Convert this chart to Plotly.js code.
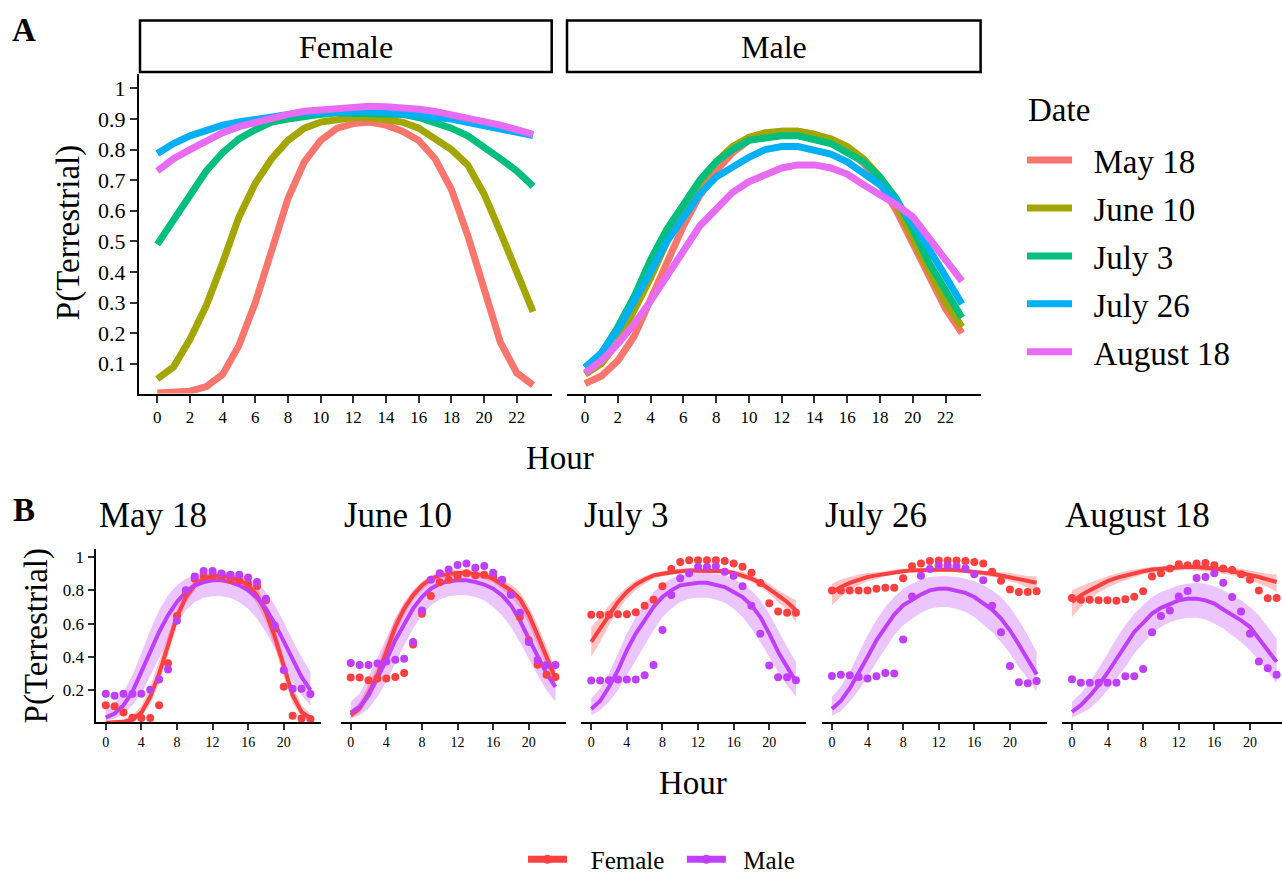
<!DOCTYPE html>
<html>
<head>
<meta charset="utf-8">
<script src="https://cdn.plot.ly/plotly-3.0.1.min.js"></script>
<style>html,body{margin:0;padding:0;background:#fff;}#chart{width:1282px;height:883px;}</style>
</head>
<body>
<div id="chart"></div>
<script>
// ---------------- DATA ----------------
const hours = [0,1,2,3,4,5,6,7,8,9,10,11,12,13,14,15,16,17,18,19,20,21,22,23];
const dates = ['May 18','June 10','July 3','July 26','August 18'];
const sexes = ['Female','Male'];
const tickHoursA = [0,2,4,6,8,10,12,14,16,18,20,22];
const tickHoursB = [0,4,8,12,16,20];
const tickProbA = [0.1,0.2,0.3,0.4,0.5,0.6,0.7,0.8,0.9,1];
const tickProbA_text = ['0.1','0.2','0.3','0.4','0.5','0.6','0.7','0.8','0.9','1'];
const tickProbB = [0.2,0.4,0.6,0.8,1];
const tickProbB_text = ['0.2','0.4','0.6','0.8','1'];

// fitted P(Terrestrial) - Female
const fitF_May18 = [0.004,0.006,0.010,0.025,0.065,0.16,0.30,0.47,0.64,0.76,0.83,0.87,0.885,0.89,0.88,0.86,0.83,0.77,0.67,0.52,0.34,0.17,0.07,0.03];
const fitF_Jun10 = [0.05,0.09,0.18,0.29,0.43,0.58,0.69,0.77,0.83,0.87,0.89,0.90,0.905,0.905,0.90,0.89,0.87,0.835,0.80,0.75,0.655,0.53,0.40,0.27];
const fitF_Jul3  = [0.49,0.57,0.655,0.73,0.79,0.835,0.865,0.89,0.90,0.91,0.915,0.92,0.92,0.92,0.92,0.915,0.905,0.89,0.87,0.845,0.81,0.77,0.73,0.68];
const fitF_Jul26 = [0.787,0.82,0.845,0.865,0.88,0.89,0.90,0.91,0.915,0.92,0.922,0.925,0.925,0.925,0.922,0.918,0.912,0.905,0.90,0.89,0.88,0.87,0.855,0.846];
const fitF_Aug18 = [0.73,0.77,0.80,0.83,0.855,0.875,0.89,0.905,0.915,0.925,0.93,0.935,0.94,0.942,0.94,0.937,0.932,0.925,0.915,0.905,0.895,0.88,0.865,0.85];
// fitted P(Terrestrial) - Male
const fitM_May18 = [0.035,0.06,0.11,0.19,0.31,0.43,0.55,0.65,0.73,0.79,0.83,0.85,0.86,0.86,0.85,0.83,0.80,0.755,0.69,0.60,0.49,0.38,0.28,0.20];
const fitM_Jun10 = [0.065,0.10,0.17,0.27,0.38,0.50,0.60,0.69,0.76,0.81,0.84,0.855,0.86,0.86,0.85,0.835,0.81,0.77,0.71,0.62,0.51,0.40,0.30,0.22];
const fitM_Jul3  = [0.087,0.135,0.22,0.32,0.44,0.54,0.62,0.70,0.76,0.80,0.83,0.84,0.845,0.845,0.835,0.82,0.79,0.76,0.71,0.64,0.54,0.43,0.34,0.25];
const fitM_Jul26 = [0.087,0.135,0.21,0.30,0.40,0.50,0.58,0.655,0.71,0.745,0.775,0.80,0.81,0.81,0.80,0.785,0.76,0.725,0.685,0.63,0.56,0.475,0.39,0.295];
const fitM_Aug18 = [0.07,0.11,0.165,0.23,0.305,0.39,0.47,0.55,0.605,0.66,0.695,0.72,0.74,0.75,0.75,0.74,0.72,0.685,0.655,0.62,0.58,0.51,0.44,0.37];

// confidence band - Female
const loF_May18 = [0.001,0.002,0.004,0.012,0.040,0.115,0.24,0.41,0.59,0.72,0.80,0.845,0.86,0.865,0.855,0.83,0.79,0.72,0.61,0.46,0.28,0.12,0.04,0.013];
const hiF_May18 = [0.012,0.016,0.024,0.050,0.105,0.22,0.37,0.53,0.69,0.80,0.86,0.89,0.905,0.91,0.90,0.885,0.86,0.815,0.72,0.58,0.40,0.23,0.11,0.06];
const loF_Jun10 = [0.03,0.065,0.14,0.24,0.38,0.53,0.65,0.74,0.80,0.845,0.87,0.88,0.885,0.885,0.88,0.865,0.845,0.805,0.76,0.70,0.60,0.47,0.34,0.21];
const hiF_Jun10 = [0.075,0.13,0.23,0.35,0.49,0.63,0.73,0.80,0.855,0.89,0.91,0.92,0.925,0.925,0.92,0.91,0.895,0.865,0.835,0.79,0.705,0.59,0.46,0.33];
const loF_Jul3  = [0.40,0.49,0.59,0.68,0.75,0.80,0.84,0.87,0.885,0.895,0.90,0.905,0.905,0.905,0.905,0.90,0.89,0.87,0.85,0.82,0.78,0.73,0.68,0.61];
const hiF_Jul3  = [0.58,0.64,0.71,0.77,0.82,0.86,0.885,0.905,0.915,0.925,0.93,0.935,0.935,0.935,0.935,0.93,0.92,0.91,0.89,0.87,0.84,0.80,0.77,0.74];
const loF_Jul26 = [0.71,0.76,0.80,0.83,0.855,0.87,0.885,0.895,0.905,0.91,0.91,0.912,0.912,0.912,0.91,0.905,0.90,0.89,0.88,0.87,0.855,0.84,0.815,0.79];
const hiF_Jul26 = [0.84,0.865,0.88,0.895,0.905,0.91,0.915,0.925,0.93,0.935,0.935,0.937,0.937,0.937,0.935,0.93,0.925,0.92,0.915,0.91,0.905,0.895,0.885,0.885];
const loF_Aug18 = [0.64,0.70,0.745,0.785,0.815,0.84,0.86,0.88,0.895,0.905,0.91,0.915,0.92,0.922,0.92,0.915,0.91,0.90,0.89,0.875,0.86,0.84,0.82,0.79];
const hiF_Aug18 = [0.80,0.825,0.845,0.865,0.885,0.90,0.915,0.925,0.935,0.94,0.945,0.95,0.955,0.957,0.955,0.95,0.945,0.94,0.935,0.93,0.92,0.91,0.90,0.895];
// confidence band - Male
const loM_May18 = [0.015,0.03,0.06,0.11,0.18,0.28,0.39,0.50,0.60,0.68,0.73,0.755,0.765,0.765,0.755,0.73,0.69,0.63,0.55,0.45,0.35,0.25,0.17,0.11];
const hiM_May18 = [0.09,0.12,0.19,0.29,0.42,0.56,0.68,0.77,0.83,0.87,0.89,0.90,0.91,0.915,0.91,0.90,0.88,0.845,0.79,0.71,0.61,0.50,0.40,0.31];
const loM_Jun10 = [0.03,0.05,0.09,0.16,0.25,0.36,0.47,0.57,0.65,0.71,0.745,0.765,0.77,0.77,0.76,0.74,0.70,0.65,0.58,0.49,0.39,0.29,0.20,0.13];
const hiM_Jun10 = [0.13,0.18,0.28,0.40,0.52,0.63,0.72,0.79,0.84,0.88,0.90,0.91,0.915,0.915,0.91,0.90,0.885,0.86,0.81,0.74,0.64,0.52,0.42,0.33];
const loM_Jul3  = [0.05,0.08,0.13,0.20,0.29,0.38,0.47,0.56,0.64,0.69,0.73,0.75,0.755,0.755,0.745,0.725,0.69,0.64,0.57,0.49,0.40,0.31,0.23,0.16];
const hiM_Jul3  = [0.15,0.21,0.30,0.42,0.54,0.64,0.72,0.79,0.84,0.87,0.89,0.90,0.905,0.905,0.90,0.89,0.87,0.84,0.80,0.74,0.66,0.56,0.46,0.37];
const loM_Jul26 = [0.045,0.075,0.13,0.20,0.28,0.37,0.45,0.53,0.59,0.63,0.665,0.69,0.70,0.70,0.69,0.67,0.64,0.595,0.55,0.49,0.42,0.34,0.27,0.19];
const hiM_Jul26 = [0.16,0.22,0.31,0.42,0.53,0.62,0.70,0.76,0.81,0.84,0.865,0.88,0.885,0.885,0.88,0.87,0.855,0.83,0.80,0.76,0.70,0.62,0.53,0.43];
const loM_Aug18 = [0.035,0.06,0.09,0.14,0.20,0.27,0.34,0.42,0.48,0.54,0.58,0.61,0.625,0.635,0.635,0.625,0.60,0.57,0.53,0.49,0.44,0.38,0.31,0.24];
const hiM_Aug18 = [0.13,0.18,0.25,0.33,0.42,0.51,0.59,0.66,0.71,0.76,0.79,0.81,0.83,0.84,0.845,0.84,0.825,0.80,0.77,0.74,0.70,0.65,0.58,0.51];

// observed proportion terrestrial - Female
const obsF_May18 = [0.11,0.104,0.066,0.034,0.033,0.033,0.109,0.362,0.646,0.79,0.87,0.887,0.887,0.883,0.864,0.86,0.84,0.825,0.74,0.57,0.22,0.046,0.03,0.027];
const obsF_Jun10 = [0.276,0.276,0.26,0.27,0.27,0.28,0.303,0.475,0.66,0.766,0.848,0.864,0.883,0.903,0.89,0.893,0.883,0.86,0.78,0.64,0.50,0.353,0.293,0.28];
const obsF_Jul3  = [0.653,0.653,0.653,0.657,0.657,0.669,0.708,0.743,0.825,0.928,0.971,0.981,0.981,0.981,0.981,0.977,0.961,0.942,0.906,0.844,0.722,0.673,0.665,0.665];
const obsF_Jul26 = [0.799,0.799,0.799,0.799,0.799,0.809,0.815,0.815,0.873,0.945,0.961,0.976,0.98,0.98,0.98,0.976,0.97,0.961,0.912,0.858,0.805,0.79,0.79,0.794];
const obsF_Aug18 = [0.754,0.743,0.743,0.741,0.741,0.737,0.747,0.762,0.795,0.883,0.903,0.932,0.957,0.951,0.961,0.965,0.951,0.932,0.922,0.897,0.864,0.799,0.753,0.754];
// observed proportion terrestrial - Male
const obsM_May18 = [0.179,0.167,0.179,0.179,0.179,0.202,0.264,0.324,0.618,0.80,0.883,0.916,0.916,0.902,0.893,0.893,0.877,0.85,0.75,0.587,0.322,0.208,0.208,0.177];
const obsM_Jun10 = [0.363,0.351,0.351,0.361,0.373,0.383,0.389,0.49,0.679,0.864,0.903,0.926,0.952,0.961,0.936,0.946,0.906,0.864,0.774,0.665,0.49,0.381,0.351,0.351];
const obsM_Jul3  = [0.258,0.258,0.26,0.264,0.264,0.264,0.29,0.352,0.562,0.772,0.873,0.903,0.941,0.941,0.945,0.912,0.887,0.825,0.708,0.539,0.348,0.278,0.278,0.26];
const obsM_Jul26 = [0.286,0.293,0.29,0.28,0.27,0.284,0.303,0.30,0.504,0.763,0.887,0.928,0.949,0.949,0.945,0.932,0.897,0.86,0.708,0.548,0.346,0.247,0.241,0.255];
const obsM_Aug18 = [0.266,0.245,0.245,0.245,0.245,0.245,0.284,0.284,0.328,0.548,0.646,0.679,0.763,0.796,0.874,0.88,0.903,0.845,0.76,0.673,0.539,0.373,0.332,0.293];

// ---------------- STYLE ----------------
const FONT = '"Liberation Serif", "Times New Roman", Times, serif';
const W = 1282, H = 883;
const px = v => v / W;
const py = v => 1 - v / H;
const NB = '\u00a0';
const dateColors = ['#F8766D','#A3A500','#00BF7D','#00B0F6','#E76BF3'];
const sexColors = {Female:'#FF4040', Male:'#BF3EFF'};
const sexFill = {Female:'rgba(255,64,64,0.3)', Male:'rgba(191,62,255,0.3)'};

const fitF = [fitF_May18,fitF_Jun10,fitF_Jul3,fitF_Jul26,fitF_Aug18];
const fitM = [fitM_May18,fitM_Jun10,fitM_Jul3,fitM_Jul26,fitM_Aug18];
const loF = [loF_May18,loF_Jun10,loF_Jul3,loF_Jul26,loF_Aug18];
const hiF = [hiF_May18,hiF_Jun10,hiF_Jul3,hiF_Jul26,hiF_Aug18];
const loM = [loM_May18,loM_Jun10,loM_Jul3,loM_Jul26,loM_Aug18];
const hiM = [hiM_May18,hiM_Jun10,hiM_Jul3,hiM_Jul26,hiM_Aug18];
const obsF = [obsF_May18,obsF_Jun10,obsF_Jul3,obsF_Jul26,obsF_Aug18];
const obsM = [obsM_May18,obsM_Jun10,obsM_Jul3,obsM_Jul26,obsM_Aug18];

const traces = [];
// Panel A
dates.forEach((d,i)=>{
  traces.push({x:hours, y:fitF[i], xaxis:'x', yaxis:'y', mode:'lines', name:NB+NB+d,
    line:{color:dateColors[i], width:7}, legend:'legend', legendgroup:d, showlegend:true, hoverinfo:'skip'});
});
dates.forEach((d,i)=>{
  traces.push({x:hours, y:fitM[i], xaxis:'x2', yaxis:'y2', mode:'lines', name:d,
    line:{color:dateColors[i], width:7}, legendgroup:d, showlegend:false, hoverinfo:'skip'});
});
// Panel B
const revH = hours.slice().reverse();
dates.forEach((d,i)=>{
  const xa = 'x'+(i+3), ya = 'y'+(i+3);
  const band = (lo,hi,sex)=>({x:hours.concat(revH), y:hi.concat(lo.slice().reverse()), xaxis:xa, yaxis:ya,
    mode:'lines', fill:'toself', fillcolor:sexFill[sex], line:{width:0, color:sexFill[sex]}, showlegend:false, hoverinfo:'skip'});
  traces.push(band(loF[i],hiF[i],'Female'));
  traces.push(band(loM[i],hiM[i],'Male'));
  traces.push({x:hours, y:fitF[i], xaxis:xa, yaxis:ya, mode:'lines', line:{color:sexColors.Female, width:4}, showlegend:false, hoverinfo:'skip'});
  traces.push({x:hours, y:fitM[i], xaxis:xa, yaxis:ya, mode:'lines', line:{color:sexColors.Male, width:4}, showlegend:false, hoverinfo:'skip'});
  traces.push({x:hours, y:obsF[i], xaxis:xa, yaxis:ya, mode:'markers', marker:{color:sexColors.Female, size:8}, showlegend:false, hoverinfo:'skip'});
  traces.push({x:hours, y:obsM[i], xaxis:xa, yaxis:ya, mode:'markers', marker:{color:sexColors.Male, size:8}, showlegend:false, hoverinfo:'skip'});
});
// legend entries for panel B
sexes.forEach((s,k)=>{
  traces.push({x:[null], y:[null], xaxis:'x3', yaxis:'y3', mode:'lines+markers',
    name: (k===0 ? NB+NB+NB+s+NB+NB : NB+NB+s), legend:'legend2',
    line:{color:sexColors[s], width:7}, marker:{color:sexColors[s], size:9}});
});

const axLine = {showline:true, linecolor:'#000', linewidth:2, ticks:'outside', ticklen:7, tickwidth:2,
  tickcolor:'#333', showgrid:false, zeroline:false, fixedrange:true};

const layout = {
  width:W, height:H, margin:{l:0,r:0,t:0,b:0}, paper_bgcolor:'#fff', plot_bgcolor:'#fff',
  font:{family:FONT, color:'#000'},
  showlegend:true,
  xaxis: Object.assign({}, axLine, {domain:[px(139),px(551.7)], range:[-1.12,24.14], anchor:'y',
    tickmode:'array', tickvals:tickHoursA, tickfont:{size:17, family:FONT}}),
  yaxis: Object.assign({}, axLine, {domain:[py(405),py(76)], range:[0.0025,1.0476], anchor:'x',
    tickmode:'array', tickvals:tickProbA, ticktext:tickProbA_text, tickfont:{size:22, family:FONT}}),
  xaxis2: Object.assign({}, axLine, {domain:[px(566.7),px(980.6)], range:[-1.12,24.14], anchor:'y2',
    tickmode:'array', tickvals:tickHoursA, tickfont:{size:17, family:FONT}}),
  yaxis2: {domain:[py(405),py(76)], range:[0.0025,1.0476], anchor:'x2', showline:false, showticklabels:false,
    ticks:'', showgrid:false, zeroline:false, fixedrange:true},
  legend: {x:px(1022), xanchor:'left', y:py(136), yanchor:'top', bgcolor:'rgba(0,0,0,0)',
    font:{size:33, family:FONT}, tracegroupgap:2, itemwidth:45, traceorder:'grouped'},
  legend2: {orientation:'h', x:0.516, xanchor:'center', y:py(861), yanchor:'top', bgcolor:'rgba(0,0,0,0)',
    font:{size:25, family:FONT}, itemwidth:39},
  shapes: [], annotations: []
};

const bLefts = [95.5, 340.5, 581, 821.7, 1061.7];
const pxPerHour = 8.9;
const bWidth = 25.3 * pxPerHour;
dates.forEach((d,i)=>{
  const L = bLefts[i];
  const R = Math.min(L + bWidth, W);
  const rightVal = -1.15 + (R - L)/pxPerHour;
  layout['xaxis'+(i+3)] = Object.assign({}, axLine, {domain:[px(L), px(R)], range:[-1.15, rightVal], anchor:'y'+(i+3),
    tickmode:'array', tickvals:tickHoursB, ticklen:6, tickfont:{size:14, family:FONT}});
  const ya = {domain:[py(743.3), py(565)], range:[0.0073,1.0485], anchor:'x'+(i+3), showgrid:false, zeroline:false, fixedrange:true};
  if(i===0){ Object.assign(ya, axLine, {tickmode:'array', tickvals:tickProbB, ticktext:tickProbB_text, ticklen:6, tickfont:{size:17, family:FONT}}); }
  else { Object.assign(ya, {showline:false, showticklabels:false, ticks:''}); }
  layout['yaxis'+(i+3)] = ya;
  layout.annotations.push({text:d, xref:'paper', yref:'paper', x:px(L+1), y:py(531), xanchor:'left', yanchor:'middle',
    showarrow:false, font:{size:35, family:FONT}});
});

// strips for panel A
[['Female',140,551.7],['Male',567,980.6]].forEach(([t,a,b])=>{
  layout.shapes.push({type:'rect', xref:'paper', yref:'paper', x0:px(a), x1:px(b), y0:py(74), y1:py(21),
    line:{color:'#000', width:2.5}, fillcolor:'rgba(0,0,0,0)'});
  layout.annotations.push({text:t, xref:'paper', yref:'paper', x:px((a+b)/2), y:py(48), xanchor:'center', yanchor:'middle',
    showarrow:false, font:{size:32, family:FONT}});
});

// titles and panel letters
const ann = (text,x,y,opt)=>layout.annotations.push(Object.assign({text, xref:'paper', yref:'paper', x:px(x), y:py(y),
  xanchor:'center', yanchor:'middle', showarrow:false, font:{size:33, family:FONT}}, opt||{}));
ann('Hour', 560, 471);
ann('Hour', 693, 806);
ann('P(Terrestrial)', 68, 240, {textangle:-90});
ann('P(Terrestrial)', 36, 655, {textangle:-90});
ann('<b>A</b>', 24, 31, {font:{size:33, family:FONT}});
ann('<b>B</b>', 24, 525, {font:{size:33, family:FONT}});
ann('Date', 1026, 113, {xanchor:'left'});

Plotly.newPlot('chart', traces, layout, {displayModeBar:false, staticPlot:true});
</script>
</body>
</html>
